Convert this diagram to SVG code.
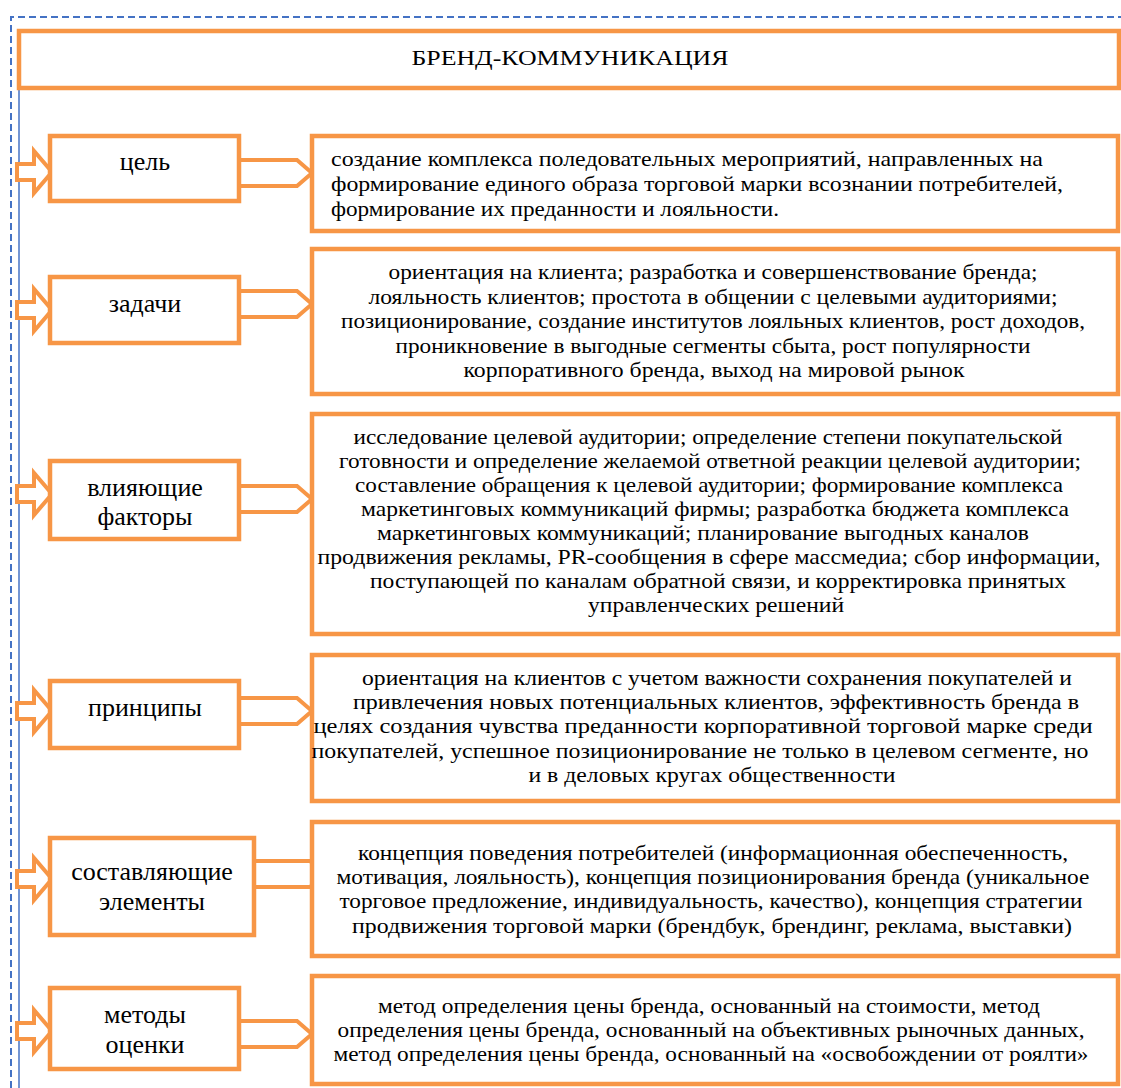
<svg xmlns="http://www.w3.org/2000/svg" width="1121" height="1088" viewBox="0 0 1121 1088">
<style>
.box{fill:#fff;stroke:#F79646;stroke-width:4.5}
.arr{fill:#fff;stroke:#F79646;stroke-width:4;stroke-linejoin:miter}
.lt{font-family:"Liberation Serif","Times New Roman",serif;font-size:26px;fill:#000;text-anchor:middle}
.rt{font-family:"Liberation Serif","Times New Roman",serif;font-size:22px;fill:#000;text-anchor:middle}
.rl{font-family:"Liberation Serif","Times New Roman",serif;font-size:22px;fill:#000}
.title{font-family:"Liberation Serif","Times New Roman",serif;font-size:22px;fill:#000;text-anchor:middle}
</style>
<rect width="1121" height="1088" fill="#fff"/>
<g id="frame">
<path d="M11,1088 V17 H1121" fill="none" stroke="#4472C4" stroke-width="2" stroke-dasharray="7 4"/>
<line x1="19" y1="88" x2="19" y2="1088" stroke="#4472C4" stroke-width="1.5"/>
</g>
<g id="title">
<rect class="box" x="19" y="31" width="1100" height="57"/>
<text class="title" x="570" y="65" textLength="317" lengthAdjust="spacingAndGlyphs">БРЕНД-КОММУНИКАЦИЯ</text>
</g>
<g id="connectors">
<path class="arr" d="M17,164 H34 V151 L52,172 L34,193 V180 H17 Z"/>
<path class="arr" d="M239,160 H297 L312,173 L297,186 H239 Z"/>
<path class="arr" d="M17,302 H34 V289 L52,310 L34,331 V318 H17 Z"/>
<path class="arr" d="M239,291 H297 L312,304 L297,317 H239 Z"/>
<path class="arr" d="M17,486 H34 V473 L52,494 L34,515 V502 H17 Z"/>
<path class="arr" d="M239,486 H297 L312,499 L297,512 H239 Z"/>
<path class="arr" d="M17,703 H34 V690 L52,711 L34,732 V719 H17 Z"/>
<path class="arr" d="M239,698 H297 L312,711 L297,724 H239 Z"/>
<path class="arr" d="M17,871 H34 V858 L52,879 L34,900 V887 H17 Z"/>
<path class="arr" d="M254,861 H310 L325,874 L310,887 H254 Z"/>
<path class="arr" d="M17,1023 H34 V1010 L52,1031 L34,1052 V1039 H17 Z"/>
<path class="arr" d="M239,1021 H297 L312,1034 L297,1047 H239 Z"/>
</g>
<g id="node-cel">
<rect class="box" x="50" y="136" width="189" height="65"/>
<text class="lt" x="145" y="170">цель</text>
</g>
<g id="node-cel-desc">
<rect class="box" x="312" y="136" width="806" height="95"/>
<text class="rl" x="331" y="166" textLength="712" lengthAdjust="spacingAndGlyphs">создание комплекса   поледовательных мероприятий, направленных   на</text>
<text class="rl" x="331" y="191" textLength="732" lengthAdjust="spacingAndGlyphs">формирование  единого образа торговой марки  всознании  потребителей,</text>
<text class="rl" x="331" y="216" textLength="448" lengthAdjust="spacingAndGlyphs">формирование их преданности и лояльности.</text>
</g>
<g id="node-zadachi">
<rect class="box" x="50" y="277" width="189" height="66"/>
<text class="lt" x="145" y="312">задачи</text>
</g>
<g id="node-zadachi-desc">
<rect class="box" x="312" y="249" width="806" height="145"/>
<text class="rt" x="713" y="279" textLength="649" lengthAdjust="spacingAndGlyphs">ориентация на клиента; разработка и  совершенствование бренда;</text>
<text class="rt" x="713" y="304" textLength="689" lengthAdjust="spacingAndGlyphs">лояльность клиентов; простота в общении с целевыми аудиториями;</text>
<text class="rt" x="713" y="328" textLength="744" lengthAdjust="spacingAndGlyphs">позиционирование, создание институтов лояльных клиентов, рост доходов,</text>
<text class="rt" x="713" y="353" textLength="635" lengthAdjust="spacingAndGlyphs">проникновение в выгодные сегменты сбыта, рост популярности</text>
<text class="rt" x="714" y="377" textLength="501" lengthAdjust="spacingAndGlyphs">корпоративного бренда, выход на мировой рынок</text>
</g>
<g id="node-factors">
<rect class="box" x="50" y="461" width="189" height="78"/>
<text class="lt" x="145" y="496">влияющие</text>
<text class="lt" x="145" y="525">факторы</text>
</g>
<g id="node-factors-desc">
<rect class="box" x="312" y="414" width="806" height="220"/>
<text class="rt" x="708" y="444" textLength="709" lengthAdjust="spacingAndGlyphs">исследование целевой аудитории; определение степени покупательской</text>
<text class="rt" x="710" y="468" textLength="742" lengthAdjust="spacingAndGlyphs">готовности и определение желаемой ответной реакции целевой аудитории;</text>
<text class="rt" x="709" y="492" textLength="708" lengthAdjust="spacingAndGlyphs">составление обращения к целевой аудитории; формирование комплекса</text>
<text class="rt" x="715" y="516" textLength="708" lengthAdjust="spacingAndGlyphs">маркетинговых коммуникаций фирмы; разработка бюджета комплекса</text>
<text class="rt" x="703" y="540" textLength="652" lengthAdjust="spacingAndGlyphs">маркетинговых коммуникаций; планирование выгодных каналов</text>
<text class="rt" x="709" y="564" textLength="783" lengthAdjust="spacingAndGlyphs">продвижения рекламы,  PR-сообщения в сфере массмедиа; сбор информации,</text>
<text class="rt" x="718" y="588" textLength="696" lengthAdjust="spacingAndGlyphs">поступающей по каналам обратной связи,   и корректировка принятых</text>
<text class="rt" x="716" y="612" textLength="256" lengthAdjust="spacingAndGlyphs">управленческих решений</text>
</g>
<g id="node-principles">
<rect class="box" x="50" y="681" width="189" height="67"/>
<text class="lt" x="145" y="716">принципы</text>
</g>
<g id="node-principles-desc">
<rect class="box" x="312" y="655" width="806" height="146"/>
<text class="rt" x="717" y="685" textLength="710" lengthAdjust="spacingAndGlyphs">ориентация на клиентов с учетом важности сохранения покупателей и</text>
<text class="rt" x="716" y="709" textLength="726" lengthAdjust="spacingAndGlyphs">привлечения новых потенциальных клиентов, эффективность бренда в</text>
<text class="rt" x="703" y="733" textLength="779" lengthAdjust="spacingAndGlyphs">целях создания чувства преданности корпоративной торговой марке среди</text>
<text class="rt" x="700" y="758" textLength="777" lengthAdjust="spacingAndGlyphs">покупателей, успешное позиционирование не только в целевом сегменте, но</text>
<text class="rt" x="712" y="782" textLength="367" lengthAdjust="spacingAndGlyphs">и в деловых кругах общественности</text>
</g>
<g id="node-elements">
<rect class="box" x="50" y="838" width="204" height="97"/>
<text class="lt" x="152" y="880">составляющие</text>
<text class="lt" x="152" y="910">элементы</text>
</g>
<g id="node-elements-desc">
<rect class="box" x="312" y="822" width="806" height="134"/>
<text class="rt" x="713" y="860" textLength="710" lengthAdjust="spacingAndGlyphs">концепция поведения потребителей (информационная обеспеченность,</text>
<text class="rt" x="713" y="884" textLength="753" lengthAdjust="spacingAndGlyphs">мотивация, лояльность), концепция позиционирования бренда (уникальное</text>
<text class="rt" x="711" y="908" textLength="743" lengthAdjust="spacingAndGlyphs">торговое предложение, индивидуальность, качество), концепция стратегии</text>
<text class="rt" x="712" y="933" textLength="720" lengthAdjust="spacingAndGlyphs">продвижения торговой марки (брендбук, брендинг, реклама, выставки)</text>
</g>
<g id="node-methods">
<rect class="box" x="50" y="988" width="189" height="81"/>
<text class="lt" x="145" y="1023">методы</text>
<text class="lt" x="145" y="1053">оценки</text>
</g>
<g id="node-methods-desc">
<rect class="box" x="312" y="976" width="806" height="108"/>
<text class="rt" x="709" y="1013" textLength="662" lengthAdjust="spacingAndGlyphs">метод определения цены бренда, основанный на стоимости, метод</text>
<text class="rt" x="711" y="1037" textLength="747" lengthAdjust="spacingAndGlyphs">определения цены бренда, основанный на объективных рыночных данных,</text>
<text class="rt" x="711" y="1061" textLength="755" lengthAdjust="spacingAndGlyphs">метод определения цены бренда, основанный на «освобождении от роялти»</text>
</g>
</svg>
